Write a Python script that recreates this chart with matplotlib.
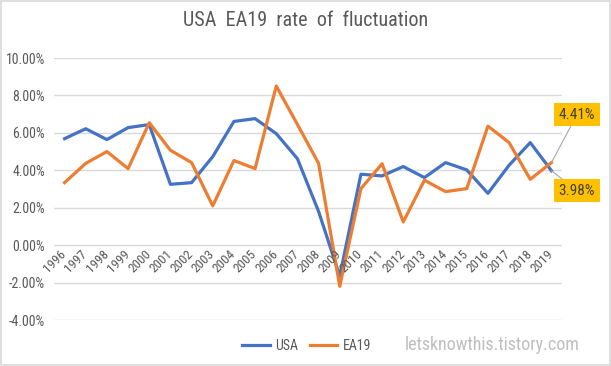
import numpy as np
import matplotlib.pyplot as plt
from matplotlib.patches import Rectangle
from matplotlib.lines import Line2D

plt.rcParams['font.family'] = ['Roboto Condensed', 'DejaVu Sans']

years = [str(y) for y in range(1996, 2020)]
usa = [5.69, 6.22, 5.64, 6.28, 6.44, 3.25, 3.34, 4.73, 6.61, 6.76, 5.96, 4.62,
       1.80, -1.65, 3.79, 3.70, 4.20, 3.61, 4.41, 4.02, 2.77, 4.27, 5.48, 3.98]
ea19 = [3.34, 4.37, 5.00, 4.09, 6.54, 5.07, 4.41, 2.10, 4.52, 4.09, 8.50, 6.45,
        4.37, -2.20, 3.02, 4.35, 1.24, 3.47, 2.86, 3.02, 6.36, 5.48, 3.52, 4.41]
yticks = [-4, -2, 0, 2, 4, 6, 8, 10]

blue = '#4472C4'
orange = '#ED7D31'
gray = '#595959'

fig = plt.figure(figsize=(6.11, 3.66), dpi=100)
ax = fig.add_axes([54 / 611, 46 / 366, 508 / 611, 262 / 366])

x = np.arange(len(years))
ax.plot(x, usa, color=blue, lw=2.3, solid_joinstyle='round', zorder=3)
ax.plot(x, ea19, color=orange, lw=2.3, solid_joinstyle='round', zorder=3)

ax.set_xlim(-0.5, len(years) - 0.5)
ax.set_ylim(-4, 10)
ax.set_yticks(yticks)
ax.set_yticklabels([f'{v:.2f}%' for v in yticks], fontsize=10, color=gray)
ax.tick_params(axis='y', length=0, pad=6.5)
ax.set_xticks([])
ax.grid(axis='y', color='#D9D9D9', lw=1)
ax.set_axisbelow(True)
for s in ax.spines.values():
    s.set_visible(False)

# year labels sit on the zero line
for i, yr in enumerate(years):
    ax.text(i + 0.2, -0.15, yr, rotation=45, ha='right', va='top',
            fontsize=9.5, color=gray)

# labels of the last points
last = len(years) - 1
for val, ty in [(ea19[-1], 6.96), (usa[-1], 2.91)]:
    ax.annotate(f'{val:.2f}%', xy=(last, val), xytext=(last + 1.2, ty),
                textcoords='data', ha='center', va='center', fontsize=11,
                color='#404040', annotation_clip=False,
                bbox=dict(boxstyle='square,pad=0.3', fc='#FFC000', ec='none'),
                arrowprops=dict(arrowstyle='-', color='#A6A6A6', lw=0.8,
                                shrinkA=0, shrinkB=0))

fig.text(0.5, 0.943, 'USA  EA19  rate  of  fluctuation', ha='center', va='center',
         fontsize=14.5, color=gray)

handles = [Line2D([], [], color=blue, lw=2.3), Line2D([], [], color=orange, lw=2.3)]
fig.legend(handles, ['USA', 'EA19'], loc='center', bbox_to_anchor=(0.502, 0.055),
           ncol=2, frameon=False, fontsize=10, handlelength=2.0,
           handletextpad=0.4, columnspacing=0.8, labelcolor=gray)

fig.text(0.806, 0.057, 'letsknowthis.tistory.com', ha='center', va='center',
         fontsize=13, color='#BFBFBF')

fig.patches.append(Rectangle((0.001, 0.002), 0.997, 0.995, transform=fig.transFigure,
                             fill=False, ec='#D9D9D9', lw=1.2))

fig.savefig('out.png', dpi=100)
